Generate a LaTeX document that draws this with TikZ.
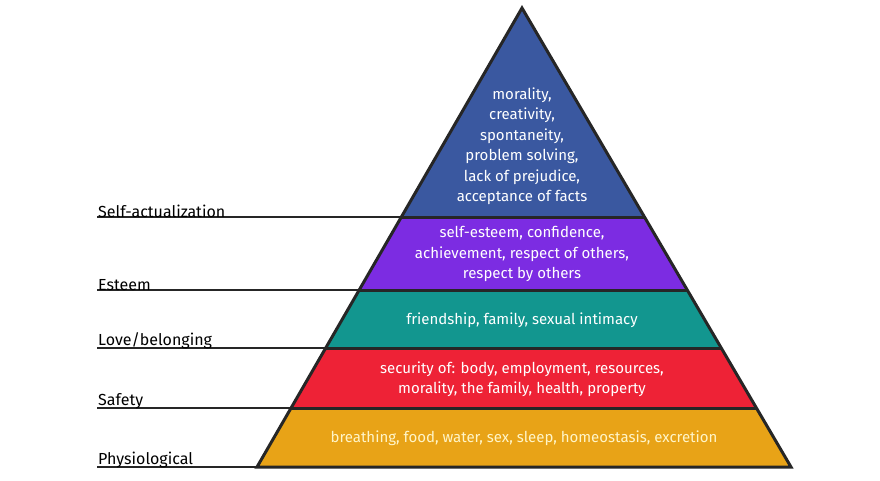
\documentclass[tikz,border=0pt]{standalone}
\usepackage{fontspec}
\setmainfont{Fira Sans}
\begin{document}
\begin{tikzpicture}[x=1pt,y=-1pt,
  band/.style={draw=black!85,line width=3pt,line join=miter},
  txt/.style={text=white,font=\fontsize{15}{20.5}\selectfont,align=center},
  lab/.style={font=\fontsize{16}{18}\selectfont,anchor=south west,inner sep=1pt},
  rule/.style={draw=black!85,line width=1.8pt}]
\useasboundingbox (0,0) rectangle (880,480);
\def\lx#1{\fpeval{522-(#1-8)*265/459}}
\def\rx#1{\fpeval{522+(#1-8)*269/459}}
\coordinate (A) at (522,8);
\coordinate (L1) at (\lx{217},217); \coordinate (R1) at (\rx{217},217);
\coordinate (L2) at (\lx{290},290); \coordinate (R2) at (\rx{290},290);
\coordinate (L3) at (\lx{348},348); \coordinate (R3) at (\rx{348},348);
\coordinate (L4) at (\lx{408},408); \coordinate (R4) at (\rx{408},408);
\coordinate (L5) at (257,467); \coordinate (R5) at (791,467);
\fill[fill={rgb,255:red,58;green,88;blue,160}] (A)--(L1)--(R1)--cycle;
\fill[fill={rgb,255:red,124;green,44;blue,226}] (L1)--(L2)--(R2)--(R1)--cycle;
\fill[fill={rgb,255:red,18;green,150;blue,143}] (L2)--(L3)--(R3)--(R2)--cycle;
\fill[fill={rgb,255:red,238;green,34;blue,54}] (L3)--(L4)--(R4)--(R3)--cycle;
\fill[fill={rgb,255:red,232;green,163;blue,23}] (L4)--(L5)--(R5)--(R4)--cycle;
\draw[band] (L1)--(R1) (L2)--(R2) (L3)--(R3) (L4)--(R4);
\draw[band] (A)--(L5)--(R5)--cycle;
\coordinate (E1) at (97,217); \coordinate (E2) at (97,290); \coordinate (E3) at (97,348);
\coordinate (E4) at (97,408); \coordinate (E5) at (97,467);
\draw[rule] (E1)--(L1) (E2)--(L2) (E3)--(L3) (E4)--(L4) (E5)--(L5);
\node[lab] (l1) at (E1) [yshift=-2pt] {Self-actualization};
\node[lab] (l2) at (E2) [yshift=-2pt] {Esteem};
\node[lab] (l3) at (E3) [yshift=-2pt] {Love/belonging};
\node[lab] (l4) at (E4) [yshift=-2pt] {Safety};
\node[lab] (l5) at (E5) [yshift=-2pt] {Physiological};
\node[txt] (t1) at (522,146) {morality,\\creativity,\\spontaneity,\\problem solving,\\lack of prejudice,\\acceptance of facts};
\node[txt] (t2) at (522,254) {self-esteem, confidence,\\achievement, respect of others,\\respect by others};
\node[txt] (t3) at (522,320) {friendship, family, sexual intimacy};
\node[txt] (t4) at (522,379) {security of: body, employment, resources,\\morality, the family, health, property};
\node[txt,text={rgb,255:red,255;green,245;blue,200}] (t5) at (524,438) {breathing, food, water, sex, sleep, homeostasis, excretion};
\end{tikzpicture}
\end{document}
